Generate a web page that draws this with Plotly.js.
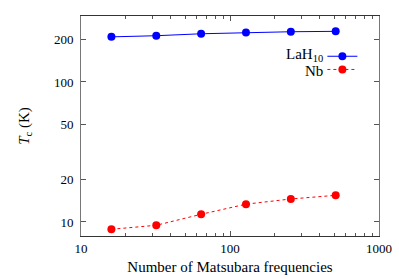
<!DOCTYPE html>
<html><head><meta charset="utf-8">
<script src="https://cdn.plot.ly/plotly-3.0.1.min.js"></script>
<style>html,body{margin:0;padding:0;background:#fff}</style>
</head><body><div id="chart" style="width:399px;height:279px"></div>
<script>
const matsubara = [16, 32, 64, 128, 256, 512];
const tcLaH10 = [210, 214, 221, 226, 228.5, 230];
const tcNb = [8.87, 9.47, 11.35, 13.4, 14.6, 15.5];
const xTickVals = [10, 100, 1000];
const xMinorVals = [20,30,40,50,60,70,80,90,200,300,400,500,600,700,800,900];
const yTickVals = [10, 20, 50, 100, 200];
const seriesNames = ["LaH<sub>10</sub>", "Nb"];

const FAM = "Liberation Serif, DejaVu Serif, serif";
const f = (s) => ({family: FAM, size: s, color: "#000"});
const traces = [
  {x: matsubara, y: tcLaH10, mode: "lines+markers", name: "", legend: "legend",
   line: {color: "#0000ff", width: 1}, marker: {color: "#0000ff", size: 8}},
  {x: matsubara, y: tcNb, mode: "lines+markers", name: "", legend: "legend2",
   line: {color: "#ff0000", width: 1, dash: "dot"}, marker: {color: "#ff0000", size: 8}}
];
const legBase = {xanchor: "left", yanchor: "middle", bgcolor: "rgba(0,0,0,0)", font: f(10), itemwidth: 30};
const layout = {
  width: 399, height: 279,
  margin: {l: 81, r: 20, t: 16, b: 43},
  paper_bgcolor: "#fff", plot_bgcolor: "#fff",
  font: f(13),
  showlegend: true,
  legend: Object.assign({x: 0.81, y: 0.817}, legBase),
  legend2: Object.assign({x: 0.81, y: 0.757}, legBase),
  xaxis: {type: "log", range: [1, 3], tickvals: xTickVals, ticktext: xTickVals.map(String),
          ticks: "inside", ticklen: 5, tickcolor: "#555", mirror: "ticks",
          showline: true, linecolor: "#333", linewidth: 1, showgrid: false, zeroline: false,
          minor: {tickvals: xMinorVals, ticks: "inside", ticklen: 3, tickcolor: "#555", showgrid: false},
          tickfont: f(13),
          title: {text: "Number of Matsubara frequencies", font: f(15), standoff: 6}},
  yaxis: {type: "log", range: [Math.log10(7.94), Math.log10(296)], tickvals: yTickVals, ticktext: yTickVals.map(String),
          ticks: "inside", ticklen: 5, tickcolor: "#555", mirror: "ticks",
          showline: true, linecolor: "#777", linewidth: 1, showgrid: false, zeroline: false,
          tickfont: f(13), ticklabelstandoff: 4,
          title: {text: "<i>T</i><sub>c</sub> (K)", font: f(15), standoff: 20}},
  annotations: [
    {xref: "paper", yref: "paper", x: 0.82, y: 0.822, xanchor: "right", yanchor: "middle", showarrow: false,
     text: seriesNames[0], font: f(15)},
    {xref: "paper", yref: "paper", x: 0.82, y: 0.752, xanchor: "right", yanchor: "middle", showarrow: false,
     text: seriesNames[1], font: f(15)}
  ]
};
Plotly.newPlot("chart", traces, layout, {displayModeBar: false, staticPlot: true});
</script></body></html>
